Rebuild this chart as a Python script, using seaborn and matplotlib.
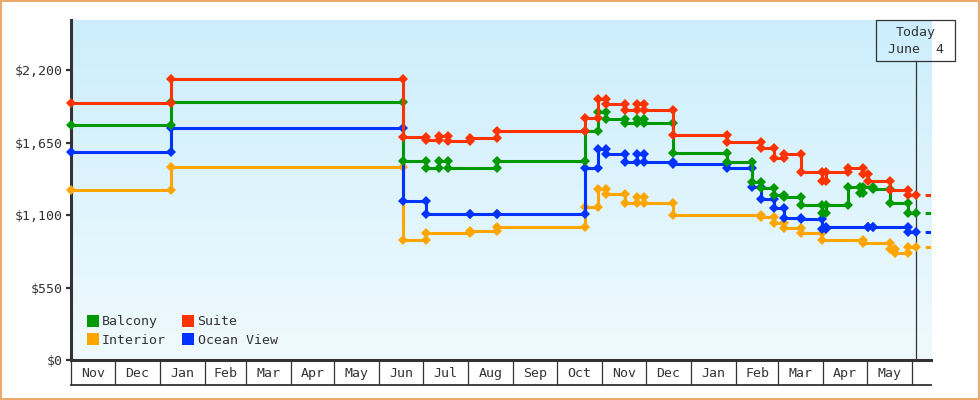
import matplotlib
matplotlib.use('Agg')
import matplotlib.pyplot as plt
import matplotlib.dates as mdates
from matplotlib.colors import LinearSegmentedColormap
from matplotlib.lines import Line2D
from matplotlib.patches import Rectangle
import numpy as np
import pandas as pd
import seaborn as sns

# price change dates and the price that holds from each date on
balcony_dates = ['2022-11-01', '2023-01-09', '2023-06-17', '2023-07-03', '2023-07-12',
                 '2023-07-18', '2023-08-21', '2023-10-20', '2023-10-29', '2023-11-04',
                 '2023-11-17', '2023-11-25', '2023-11-30', '2023-12-20', '2024-01-26',
                 '2024-02-12', '2024-02-18', '2024-02-27', '2024-03-05', '2024-03-17',
                 '2024-03-31', '2024-04-03', '2024-04-18', '2024-04-26', '2024-04-28',
                 '2024-05-05', '2024-05-17', '2024-05-29']
balcony_prices = [1785, 1960, 1512, 1454, 1512, 1454, 1512, 1737, 1880, 1828,
                  1795, 1830, 1795, 1568, 1505, 1353, 1302, 1252, 1240, 1176,
                  1115, 1176, 1315, 1264, 1315, 1295, 1189, 1113]

suite_dates = ['2022-11-01', '2023-01-09', '2023-06-17', '2023-07-03', '2023-07-12',
               '2023-07-18', '2023-08-02', '2023-08-21', '2023-10-20', '2023-10-29',
               '2023-11-04', '2023-11-17', '2023-11-25', '2023-11-30', '2023-12-20',
               '2024-01-26', '2024-02-18', '2024-02-27', '2024-03-05', '2024-03-17',
               '2024-03-31', '2024-04-03', '2024-04-18', '2024-04-28', '2024-05-02',
               '2024-05-17', '2024-05-29']
suite_prices = [1950, 2130, 1690, 1670, 1700, 1665, 1685, 1740, 1840, 1980,
                1940, 1900, 1945, 1900, 1705, 1656, 1606, 1530, 1563, 1430,
                1355, 1430, 1454, 1411, 1355, 1290, 1255]

interior_dates = ['2022-11-01', '2023-01-09', '2023-06-17', '2023-07-03', '2023-08-02',
                  '2023-08-21', '2023-10-20', '2023-10-29', '2023-11-04', '2023-11-17',
                  '2023-11-25', '2023-11-30', '2023-12-20', '2024-02-18', '2024-02-27',
                  '2024-03-05', '2024-03-17', '2024-03-31', '2024-04-28', '2024-05-17',
                  '2024-05-20', '2024-05-29']
interior_prices = [1287, 1462, 908, 961, 981, 1006, 1158, 1297, 1257, 1193,
                   1240, 1193, 1100, 1087, 1037, 999, 961, 910, 885, 845,
                   809, 860]

ocean_dates = ['2022-11-01', '2023-01-09', '2023-06-17', '2023-07-03', '2023-08-02',
               '2023-08-21', '2023-10-20', '2023-10-29', '2023-11-04', '2023-11-17',
               '2023-11-25', '2023-11-30', '2023-12-20', '2024-01-26', '2024-02-12',
               '2024-02-18', '2024-02-27', '2024-03-05', '2024-03-17', '2024-03-31',
               '2024-04-03', '2024-05-02', '2024-05-05', '2024-05-29']
ocean_prices = [1580, 1758, 1206, 1105, 1105, 1105, 1454, 1600, 1563, 1500,
                1560, 1500, 1490, 1454, 1315, 1221, 1151, 1075, 1067, 991,
                1006, 1006, 1006, 973]

today = '2024-06-04'
today_label = 'Today\nJune  4'
x_start, x_end = '2022-11-01', '2024-06-14'
month_labels = ['Nov', 'Dec', 'Jan', 'Feb', 'Mar', 'Apr', 'May', 'Jun', 'Jul', 'Aug',
                'Sep', 'Oct', 'Nov', 'Dec', 'Jan', 'Feb', 'Mar', 'Apr', 'May']
y_ticks = [0, 550, 1100, 1650, 2200]

legend_order = ['Balcony', 'Interior', 'Suite', 'Ocean View']
draw_order = ['Interior', 'Ocean View', 'Balcony', 'Suite']
colors = {'Balcony': '#009900', 'Suite': '#FF3300',
          'Interior': '#FFA500', 'Ocean View': '#0033FF'}
ink = '#333333'


def step_points(name, dates, prices):
    # old and new price at every change date, so each change gets two markers
    rows = [(pd.Timestamp(dates[0]), prices[0])]
    for d, old, new in zip(dates[1:], prices[:-1], prices[1:]):
        rows.append((pd.Timestamp(d), old))
        rows.append((pd.Timestamp(d), new))
    rows.append((pd.Timestamp(today), prices[-1]))
    df = pd.DataFrame(rows, columns=['date', 'price'])
    df['cabin'] = name
    return df


series = {'Balcony': (balcony_dates, balcony_prices),
          'Suite': (suite_dates, suite_prices),
          'Interior': (interior_dates, interior_prices),
          'Ocean View': (ocean_dates, ocean_prices)}
data = pd.concat([step_points(k, *v) for k, v in series.items()], ignore_index=True)

plt.rcParams['font.family'] = ['DejaVu Sans Mono']
plt.rcParams['font.size'] = 9.5

fig = plt.figure(figsize=(9.8, 4), dpi=100)
pos = [71 / 980, 40 / 400, 860 / 980, 340 / 400]

# light blue gradient behind the plot
bg = fig.add_axes(pos, zorder=0)
grad = LinearSegmentedColormap.from_list('sky', ['#CCEEFC', '#F0FAFE'])
bg.imshow(np.linspace(0, 1, 256).reshape(-1, 1), cmap=grad, aspect='auto',
          extent=[0, 1, 0, 1])
bg.axis('off')

ax = fig.add_axes(pos, zorder=1)
ax.patch.set_alpha(0)

sns.lineplot(data=data, x='date', y='price', hue='cabin', hue_order=draw_order,
             palette=colors, estimator=None, sort=False, marker='D',
             markersize=4.8, markeredgewidth=0, linewidth=2.2, legend=False,
             clip_on=False, zorder=3, ax=ax)

# short dashed projection after today
for name, (dates, prices) in series.items():
    ax.plot([pd.Timestamp(today), pd.Timestamp(x_end)], [prices[-1], prices[-1]],
            color=colors[name], lw=2.2, ls=(1.8, (1.8, 3.0)), dash_capstyle='butt')

ax.set_xlim(pd.Timestamp(x_start), pd.Timestamp(x_end))
ax.set_ylim(0, 2580)

# y axis
ax.set_yticks(y_ticks)
ax.set_yticklabels([f'${v:,}' for v in y_ticks])
ax.tick_params(axis='y', direction='out', length=3.6, width=1.6, color=ink,
               labelcolor=ink, pad=2)

# month boxes under the axis
month_starts = pd.date_range(x_start, '2024-06-01', freq='MS')
mids = month_starts[:-1] + (month_starts[1:] - month_starts[:-1]) / 2
ax.set_xticks(mdates.date2num(month_starts))
ax.set_xticklabels([''] * len(month_starts))
ax.set_xticks(mdates.date2num(mids), minor=True)
ax.set_xticklabels(month_labels, minor=True)
ax.tick_params(axis='x', which='major', direction='out', length=18, width=0.9, color=ink)
ax.tick_params(axis='x', which='minor', length=0, pad=5, labelcolor=ink)
ax.plot([0, 1], [-25 / 340, -25 / 340], transform=ax.transAxes, color=ink,
        lw=1.3, clip_on=False)

for side in ['top', 'right']:
    ax.spines[side].set_visible(False)
for side in ['left', 'bottom']:
    ax.spines[side].set_linewidth(2.2)
    ax.spines[side].set_color(ink)
ax.set_xlabel('')
ax.set_ylabel('')

# today marker
ax.axvline(pd.Timestamp(today), ymin=0, ymax=(360 - 61) / 340, color=ink, lw=0.9)
fig.add_artist(Rectangle((876 / 980, 1 - 61 / 400), 79 / 980, 41 / 400,
                         transform=fig.transFigure, fill=False, ec=ink, lw=0.9))
fig.text(915.5 / 980, 1 - 41 / 400, today_label, ha='center', va='center',
         color=ink, linespacing=1.45)

handles = [Line2D([], [], ls='', marker='s', markersize=8, markeredgewidth=0,
                  color=colors[n]) for n in legend_order]
ax.legend(handles, legend_order, ncol=2, loc='lower left',
          bbox_to_anchor=(0.019, 0.038), frameon=False, borderaxespad=0,
          borderpad=0, handlelength=0.8, handletextpad=0.3,
          columnspacing=1.3, labelspacing=0.45, labelcolor=ink)

fig.add_artist(Rectangle((0.001, 0.0025), 0.998, 0.995, transform=fig.transFigure,
                         fill=False, ec='#E9AB6B', lw=1.5))

fig.savefig('out.png', dpi=100)
